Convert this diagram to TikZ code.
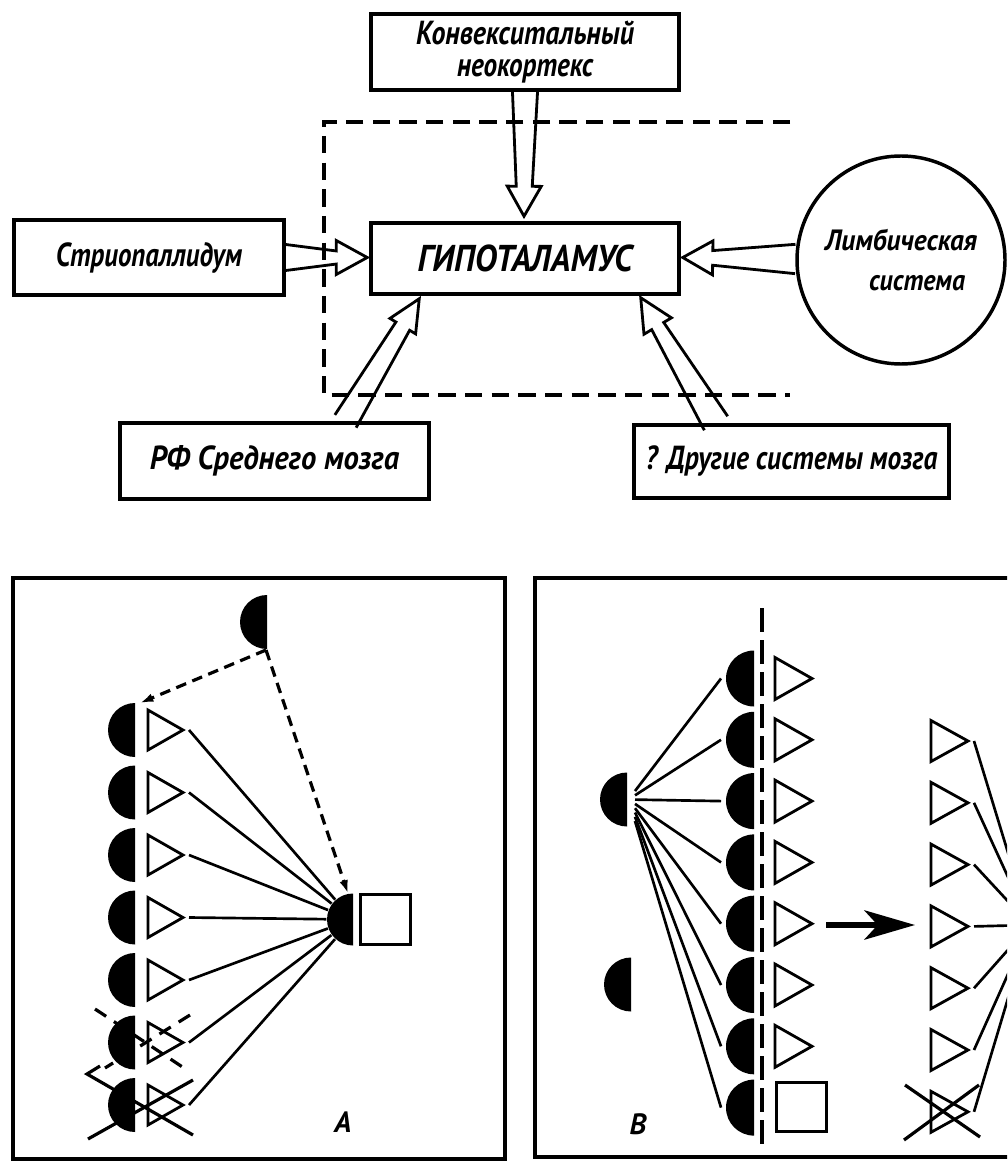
\documentclass[tikz,border=0pt]{standalone}
\usepackage{fontspec}
\usepackage{graphicx}
\usetikzlibrary{calc,arrows.meta}
\newfontfamily\lbl{PT Sans}
\newcommand\fw[2]{\resizebox{#1}{\height}{#2}}
\newcommand\hollowarr[6]{%
  \coordinate (hb) at ($(#2)!#6!(#1)$);
  \draw[hol] ($(#1)!#3!90:(#2)$) -- ($(hb)!#4!-90:(#1)$) -- ($(hb)!#5!-90:(#1)$) -- (#2)
     -- ($(hb)!#5!90:(#1)$) -- ($(hb)!#4!90:(#1)$) -- ($(#1)!#3!-90:(#2)$);}
\newcommand\hdisc[4]{%
  \coordinate (#1) at (#2,#3);
  \fill (#1) ++(0,-#4) arc[start angle=90,end angle=270,radius=#4*0.75pt] -- cycle;}
\newcommand\opentri[5]{%
  \coordinate (#1) at (#2+#4,#3);
  \draw[tri] (#2,#3-#5) -- (#2+#4,#3) -- (#2,#3+#5) -- cycle;}
\begin{document}
\begin{tikzpicture}[x=0.75pt,y=-0.75pt,
  box/.style={draw,line width=2.6pt,inner sep=0pt,align=center,font=\lbl\bfseries\itshape\fontsize{25}{21}\selectfont},
  hol/.style={line width=2.1pt},
  dfr/.style={line width=2.4pt,dash pattern=on 13pt off 7pt},
  frame/.style={line width=2.6pt},
  tri/.style={line width=2.1pt},
  wire/.style={line width=2pt},
  dwire/.style={line width=2.4pt,dash pattern=on 8pt off 5pt,-{Latex[length=10pt,width=6.5pt]}},
  xl/.style={line width=2.4pt},
  dxl/.style={line width=2.4pt,dash pattern=on 10pt off 7pt},
  dvl/.style={line width=2.4pt,dash pattern=on 18pt off 6pt},
  lab/.style={font=\lbl\bfseries\itshape\fontsize{22}{22}\selectfont,inner sep=0pt},
  sq/.style={draw,line width=2.2pt,minimum size=38pt,inner sep=0pt},
  big/.style={line width=4pt,-{Stealth[length=38pt,width=22pt,inset=10pt]}}
]
\fill[white] (0,0) rectangle (1007,1162);
\useasboundingbox (0,0) rectangle (1007,1162);
\clip (0,0) rectangle (1007,1162);

% ---------- top diagram ----------
\draw[dfr] (790,122) -- (324,122) -- (324,395) -- (790,395);

\node[box,minimum width=231pt,minimum height=57pt] (konv) at (525,52)
  {\fw{163.5pt}{Конвекситальный}\\[3pt]\fw{102pt}{неокортекс}};
\node[box,minimum width=231pt,minimum height=53.25pt,font=\lbl\bfseries\itshape\fontsize{28}{28}\selectfont] (hyp) at (525,258.5)
  {\fw{161pt}{ГИПОТАЛАМУС}};
\node[box,minimum width=202.5pt,minimum height=56.25pt] (str) at (149,257.5)
  {\fw{139.5pt}{Стриопаллидум}};
\node[box,minimum width=231.75pt,minimum height=57pt] (rf) at (274.5,461)
  {\fw{187pt}{РФ Среднего мозга}};
\node[box,minimum width=236.25pt,minimum height=54.75pt] (dr) at (791.5,461.5)
  {\fw{219pt}{? Другие системы мозга}};
\node[box,circle,minimum size=156pt,font=\lbl\bfseries\itshape\fontsize{22}{29.6}\selectfont] (lim) at (901,260)
  {\fw{114pt}{Лимбическая}\\\hspace*{24pt}\fw{72pt}{система}};

\coordinate (k1) at (konv.south);
\coordinate (k2) at ($(hyp.north)+(-1,-5)$);
\hollowarr{k1}{k2}{9.4pt}{6pt}{12.75pt}{22.5pt}
\coordinate (s1) at (str.east);
\coordinate (s2) at ($(hyp.west)+(-2,-1)$);
\hollowarr{s1}{s2}{9.75pt}{4.9pt}{12.75pt}{23.25pt}
\coordinate (l1) at ($(lim.west)+(0,-1)$);
\coordinate (l2) at ($(hyp.east)+(2,-1)$);
\hollowarr{l1}{l2}{11pt}{5.5pt}{12.75pt}{22.5pt}
\coordinate (r1) at ($(rf.north)+(71,0)$);
\coordinate (r2) at ($(hyp.south west)+(50,3)$);
\hollowarr{r1}{r2}{9.3pt}{6pt}{11.25pt}{24pt}
\coordinate (d1) at ($(dr.north)+(-75.5,0)$);
\coordinate (d2) at ($(hyp.south east)+(-40,2)$);
\hollowarr{d1}{d2}{10.2pt}{5.25pt}{12pt}{24.75pt}

% ---------- panel A ----------
\draw[frame] (13,578) rectangle (505,1159);
\hdisc{atop}{267}{622}{27}
\foreach \k in {0,...,6}{
  \pgfmathsetmacro\yy{730+62.5*\k}
  \hdisc{ad\k}{135}{\yy}{27}
  \opentri{at\k}{148}{\yy}{35}{20}
}
\hdisc{atg}{353}{919.5}{26}
\node[sq] (asq) at (385.5,919.5) {};
\foreach \k in {0,...,6}{
  \draw[wire] ($(at\k)+(6,0)$) -- ($(atg)!20pt!(at\k)$);
}
\coordinate (atb) at (266,650);
\draw[dwire] (atb) -- ($(ad0)+(5,-27)$);
\draw[dwire] (atb) -- ($(atg)+(-5,-26)$);
\draw[dxl] (95,1009) -- (187,1070);
\draw[dxl] (190,1015) -- (105,1068);
\draw[xl] (100,1066) -- (87,1074) -- (193,1135);
\draw[xl] (193,1080) -- (88,1139);
\node[lab] (labA) at (343,1122) {А};

% ---------- panel B ----------
\draw[frame] (1030,578) -- (535,578) -- (535,1157) -- (1030,1157);
\hdisc{bs}{627}{799.5}{27}
\hdisc{bl}{631}{984.5}{27}
\foreach \k in {0,...,7}{
  \pgfmathsetmacro\yy{678.5+61.3*\k}
  \hdisc{bd\k}{754}{\yy}{28}
  \draw[wire] ($(bs)+(8,{0.07*(\yy-799.5)})$) -- ($(bd\k)+(-33,0)$);
}
\foreach \k in {0,...,6}{
  \pgfmathsetmacro\yy{678.5+61.3*\k}
  \opentri{bt\k}{775}{\yy}{37}{21}
}
\node[sq,minimum size=37pt] (bsq) at (801.5,1107) {};
\coordinate (dvt) at (762,608);
\coordinate (dvb) at (762,1147);
\draw[dvl] (dvt) -- (dvb);
\coordinate (bgA) at (826,925);
\coordinate (bgB) at (915,925);
\draw[big] (bgA) -- (bgB);
\coordinate (conv) at (1030,925);
\foreach \k in {0,...,6}{
  \pgfmathsetmacro\yy{741+61.8*\k}
  \opentri{rt\k}{931}{\yy}{37}{20.5}
  \draw[wire] ($(rt\k)+(6,0)$) -- (conv);
}
\draw[xl] (905,1085) -- (980,1137);
\draw[xl] (904,1140) -- (979,1085);
\node[lab] (labB) at (638,1124) {В};
\end{tikzpicture}
\end{document}
